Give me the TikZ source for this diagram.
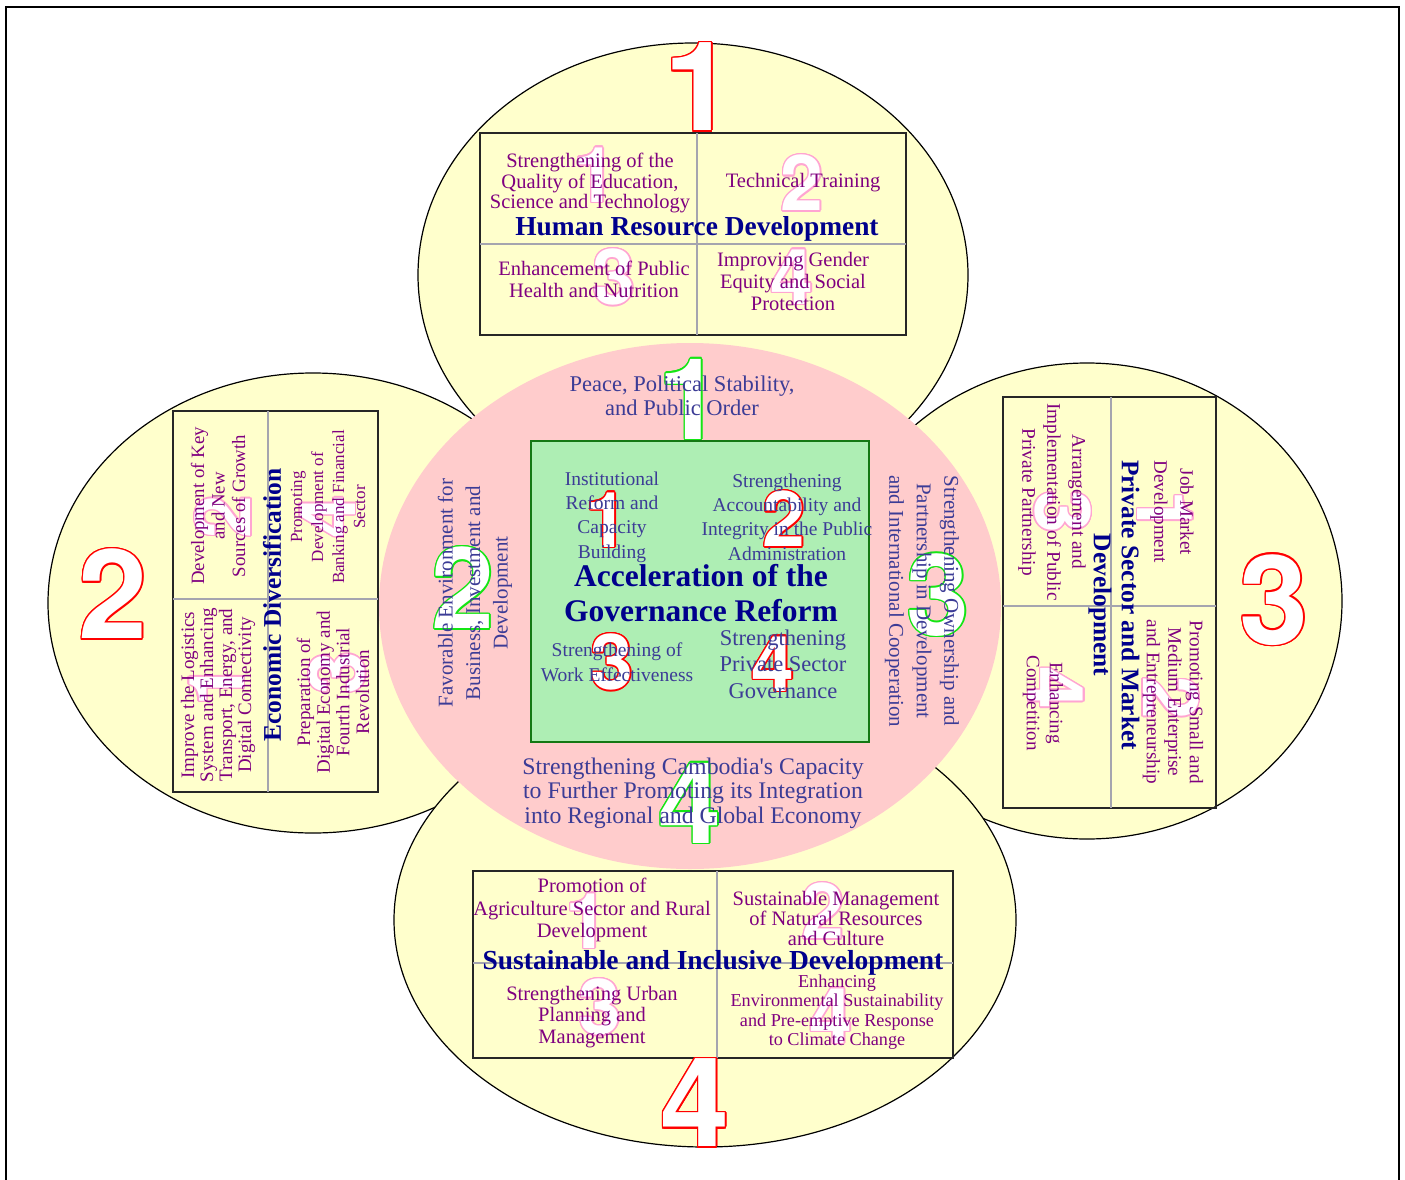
\documentclass[tikz,border=0pt]{standalone}
\usepackage{fontspec}
\setmainfont{Liberation Serif}
\newfontfamily\numfont{TeX Gyre Heros}
\usepackage{tikz}
\definecolor{petal}{RGB}{255, 255, 204}
\definecolor{core}{RGB}{255, 204, 204}
\definecolor{heart}{RGB}{174, 238, 180}
\definecolor{heartline}{RGB}{20, 120, 20}
\definecolor{navy}{RGB}{0, 0, 140}
\definecolor{plum}{RGB}{128, 0, 128}
\definecolor{slate}{RGB}{60, 60, 150}
\definecolor{rose}{RGB}{255, 165, 210}
\definecolor{lime}{RGB}{20, 230, 20}
\definecolor{rule}{RGB}{165, 165, 175}

\newcommand{\fsz}[2]{\fontsize{#1}{#2}\selectfont}

\tikzset{
  item/.style={align=center, inner sep=0pt, text=plum},
  head/.style={align=center, inner sep=0pt, text=navy},
  core text/.style={align=center, inner sep=0pt, text=slate},
  num/.style={inner sep=0pt},
  petal line/.style={draw=black, fill=petal, line width=1.2},
  box/.style={draw=black!85, line width=2},
  divider/.style={draw=rule, line width=1.5}
}

% outlined digit: name, position, colour, size, angle, digit
\newcommand{\outnum}[6]{%
  \foreach \k [count=\c] in {0,22.5,...,337.5}
    \node[num, text=#3, font=\numfont\bfseries\fsz{#4}{#4}, rotate=#5,
          shift={(\k:1.5pt)}] (#1-\c) at #2 {#6};
  \node[num, text=white, font=\numfont\bfseries\fsz{#4}{#4}, rotate=#5] (#1) at #2 {#6};
}

\begin{document}
\begin{tikzpicture}[x=1pt, y=-1pt]
  \useasboundingbox (0, 0) rectangle (1405, 1180);
  \draw[line width=2.2] (6, 1180) -- (6, 7) -- (1399, 7) -- (1399, 1180);

  % petals
  \path[petal line] (693, 275) ellipse [x radius=275pt, y radius=232pt];
  \path[petal line] (313, 603) ellipse [x radius=265pt, y radius=230pt];
  \path[petal line] (1087, 601) ellipse [x radius=255pt, y radius=238pt];
  \path[petal line] (705, 920) ellipse [x radius=311pt, y radius=227pt];

  % core and heart
  \fill[core] (690, 606) ellipse [x radius=311pt, y radius=263pt];
  \draw[heartline, fill=heart, line width=2] (531, 441) rectangle (869, 742);

  % boxes
  \draw[box] (480, 133) rectangle (906, 335);
  \draw[divider] (697, 133) -- (697, 335);
  \draw[divider] (480, 244) -- (906, 244);

  \draw[box] (173, 411) rectangle (378, 792);
  \draw[divider] (268, 411) -- (268, 792);
  \draw[divider] (173, 599) -- (378, 599);

  \draw[box] (1003, 397) rectangle (1216, 808);
  \draw[divider] (1111, 397) -- (1111, 808);
  \draw[divider] (1003, 606) -- (1216, 606);

  \draw[box] (473, 871) rectangle (953, 1058);
  \draw[divider] (717, 871) -- (717, 1058);
  \draw[divider] (473, 963) -- (953, 963);

  % digits
  \outnum{p1}{(699, 87)}{red}{124}{0}{1}
  \outnum{p2}{(113, 594)}{red}{124}{0}{2}
  \outnum{p3}{(1274, 600)}{red}{124}{0}{3}
  \outnum{p4}{(695, 1103)}{red}{124}{0}{4}

  \outnum{g1}{(690, 399)}{lime}{113}{0}{1}
  \outnum{g2}{(463, 588)}{lime}{113}{0}{2}
  \outnum{g3}{(938, 595)}{lime}{113}{0}{3}
  \outnum{g4}{(690, 803)}{lime}{113}{0}{4}

  \outnum{r1}{(607, 520)}{red}{77}{0}{1}
  \outnum{r2}{(784, 519)}{red}{77}{0}{2}
  \outnum{r3}{(612, 662)}{red}{77}{0}{3}
  \outnum{r4}{(773, 664)}{red}{77}{0}{4}

  \outnum{t1}{(595, 175)}{rose}{77}{0}{1}
  \outnum{t2}{(802, 183)}{rose}{77}{0}{2}
  \outnum{t3}{(614, 277)}{rose}{77}{0}{3}
  \outnum{t4}{(792, 277)}{rose}{77}{0}{4}

  \outnum{l1}{(217, 685)}{rose}{77}{90}{1}
  \outnum{l2}{(223, 517)}{rose}{77}{90}{2}
  \outnum{l3}{(337, 673)}{rose}{77}{90}{3}
  \outnum{l4}{(328, 517)}{rose}{77}{90}{4}

  \outnum{q1}{(1165, 512)}{rose}{77}{-90}{1}
  \outnum{q2}{(1171, 698)}{rose}{77}{-90}{2}
  \outnum{q3}{(1063, 512)}{rose}{77}{-90}{3}
  \outnum{q4}{(1056, 688)}{rose}{77}{-90}{4}

  \outnum{b1}{(587, 921)}{rose}{77}{0}{1}
  \outnum{b2}{(823, 911)}{rose}{77}{0}{2}
  \outnum{b3}{(600, 1007)}{rose}{77}{0}{3}
  \outnum{b4}{(831, 1016)}{rose}{77}{0}{4}

  % core texts
  \node[core text, font=\fsz{22.5}{23.6}] (peace) at (682, 396)
    {Peace, Political Stability,\\and Public Order};
  \node[core text, font=\fsz{21}{27.5}, rotate=90] (favor) at (475, 593)
    {Favorable Environment for\\Business, Investment and\\Development};
  \node[core text, font=\fsz{21}{27.5}, rotate=-90] (owner) at (922, 601)
    {Strengthening Ownership and\\Partnership in Development\\and International Cooperation};
  \node[core text, font=\fsz{23.8}{24.5}] (capac) at (693, 793)
    {Strengthening Cambodia\textquotesingle s Capacity\\to Further Promoting its Integration\\into Regional and Global Economy};

  % heart texts
  \node[core text, font=\fsz{19.5}{24.3}] (inst) at (612, 517)
    {Institutional\\Reform and\\Capacity\\Building};
  \node[core text, font=\fsz{19.5}{24.3}] (accnt) at (787, 517)
    {Strengthening\\Accountability and\\Integrity in the Public\\Administration};
  \node[head, font=\bfseries\fsz{31.5}{35.5}] (gov) at (701, 593)
    {Acceleration of the\\Governance Reform};
  \node[core text, font=\fsz{19.5}{25}] (work) at (617, 662)
    {Strengthening of\\Work Effectiveness};
  \node[core text, font=\fsz{22.5}{26.5}] (prgov) at (783, 664)
    {Strengthening\\Private Sector\\Governance};

  % human resource development
  \node[item, font=\fsz{20.5}{20.3}] (hr1) at (590, 183)
    {Strengthening of the\\Quality of Education,\\Science and Technology};
  \node[item, font=\fsz{20.5}{20.3}] (hr2) at (803, 183) {Technical Training};
  \node[head, font=\bfseries\fsz{27.4}{30}] (hr) at (697, 229) {Human Resource Development};
  \node[item, font=\fsz{20.5}{22}] (hr3) at (594, 279)
    {Enhancement of Public\\Health and Nutrition};
  \node[item, font=\fsz{20.5}{22}] (hr4) at (793, 281)
    {Improving Gender\\Equity and Social\\Protection};

  % economic diversification
  \node[item, font=\fsz{19}{19}, rotate=90] (ed1) at (218, 695)
    {Improve the Logistics\\System and Enhancing\\Transport, Energy, and\\Digital Connectivity};
  \node[item, font=\fsz{18.8}{20.5}, rotate=90] (ed2) at (218, 506)
    {Development of Key\\and New\\Sources of Growth};
  \node[head, font=\bfseries\fsz{25.4}{28}, rotate=90] (ed) at (272, 605) {Economic Diversification};
  \node[item, font=\fsz{19}{19.7}, rotate=90] (ed3) at (333, 692)
    {Preparation of\\Digital Economy and\\Fourth Industrial\\Revolution};
  \node[item, font=\fsz{17}{21}, rotate=90] (ed4) at (328, 507)
    {Promoting\\Development of\\Banking and Financial\\Sector};

  % private sector and market development
  \node[item, font=\fsz{19}{26}, rotate=-90] (pm1) at (1172, 512)
    {Job Market\\Development};
  \node[head, font=\bfseries\fsz{25.4}{28}, rotate=-90] (pm) at (1114, 605)
    {Private Sector and Market\\Development};
  \node[item, font=\fsz{19.2}{21.5}, rotate=-90] (pm2) at (1173, 702)
    {Promoting Small and\\Medium Enterprise\\and Entrepreneurship};
  \node[item, font=\fsz{19.3}{25}, rotate=-90] (pm3) at (1052, 502)
    {Arrangement and\\Implementation of Public\\Private Partnership};
  \node[item, font=\fsz{19}{23}, rotate=-90] (pm4) at (1043, 703)
    {Enhancing\\Competition};

  % sustainable and inclusive development
  \node[item, font=\fsz{20.5}{22.5}] (sd1) at (592, 910)
    {Promotion of\\Agriculture Sector and Rural\\Development};
  \node[item, font=\fsz{20.5}{20}] (sd2) at (836, 918)
    {Sustainable Management\\of Natural Resources\\and Culture};
  \node[head, font=\bfseries\fsz{27.5}{30}] (sd) at (713, 963)
    {Sustainable and Inclusive Development};
  \node[item, font=\fsz{20.5}{21.5}] (sd3) at (592, 1017)
    {Strengthening Urban\\Planning and\\Management};
  \node[item, font=\fsz{18.2}{19.3}] (sd4) at (837, 1012)
    {Enhancing\\Environmental Sustainability\\and Pre-emptive Response\\to Climate Change};
\end{tikzpicture}
\end{document}
